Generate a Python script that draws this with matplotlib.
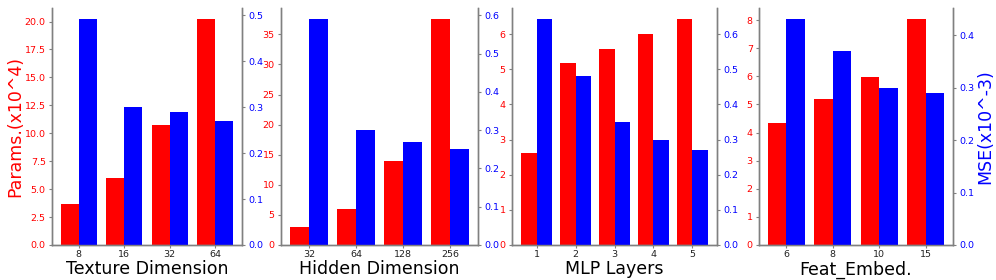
import matplotlib
matplotlib.use("Agg")
import matplotlib.pyplot as plt
import numpy as np

# Data
texture_dims = ["8", "16", "32", "64"]
texture_params = [3.67, 6.02, 10.7, 20.2]
texture_mse = [0.491, 0.301, 0.290, 0.270]

hidden_dims = ["32", "64", "128", "256"]
hidden_params = [3.0, 6.0, 14.0, 37.5]
hidden_mse = [0.590, 0.301, 0.270, 0.250]

mlp_layers = ["1", "2", "3", "4", "5"]
mlp_params = [2.61, 5.17, 5.57, 5.99, 6.42]
mlp_mse = [0.642, 0.481, 0.350, 0.300, 0.270]

feat_embed = ["6", "8", "10", "15"]
feat_params = [4.34, 5.18, 5.99, 8.03]
feat_mse = [0.430, 0.369, 0.300, 0.289]

panels = [
    ("Texture Dimension", texture_dims, texture_params, texture_mse),
    ("Hidden Dimension", hidden_dims, hidden_params, hidden_mse),
    ("MLP Layers", mlp_layers, mlp_params, mlp_mse),
    ("Feat_Embed.", feat_embed, feat_params, feat_mse),
]

W, H = 996, 280
fig = plt.figure(figsize=(W / 100, H / 100), dpi=100)

xpix = [(52, 242), (281, 478), (512, 717), (759, 953)]
top_px, bot_px = 8, 245
spine_col = "#808080"
tick_fs = 6.8
label_fs = 12.5

for i, ((xl, cats, pvals, mvals), (x0, x1)) in enumerate(zip(panels, xpix)):
    ax = fig.add_axes([x0 / W, (H - bot_px) / H, (x1 - x0) / W, (bot_px - top_px) / H])
    ax2 = ax.twinx()
    x = np.arange(len(cats))
    ax.bar(x - 0.2, pvals, width=0.4, color="red", linewidth=0)
    ax2.bar(x + 0.2, mvals, width=0.4, color="blue", linewidth=0)
    ax.set_xticks(x)
    ax.set_xticklabels(cats, fontsize=tick_fs, color="#222222")
    ax.set_xlabel(xl, fontsize=label_fs, labelpad=1)
    ax.tick_params(axis="x", length=2, color=spine_col, pad=1.5)
    ax.tick_params(axis="y", labelsize=tick_fs, labelcolor="red", length=2.5, color=spine_col, pad=2)
    ax2.tick_params(axis="y", labelsize=tick_fs, labelcolor="blue", length=2.5, color=spine_col, pad=2)
    for a in (ax, ax2):
        a.spines["top"].set_visible(False)
        for s in ("left", "right", "bottom"):
            a.spines[s].set_color(spine_col)
            a.spines[s].set_linewidth(1.0)
    if i == 0:
        ax.set_ylabel("Params.(x10^4)", fontsize=label_fs, color="red", labelpad=0)
    if i == 3:
        ax2.set_ylabel("MSE(x10^-3)", fontsize=label_fs, color="blue", labelpad=1)

fig.savefig("out.png", dpi=100)
